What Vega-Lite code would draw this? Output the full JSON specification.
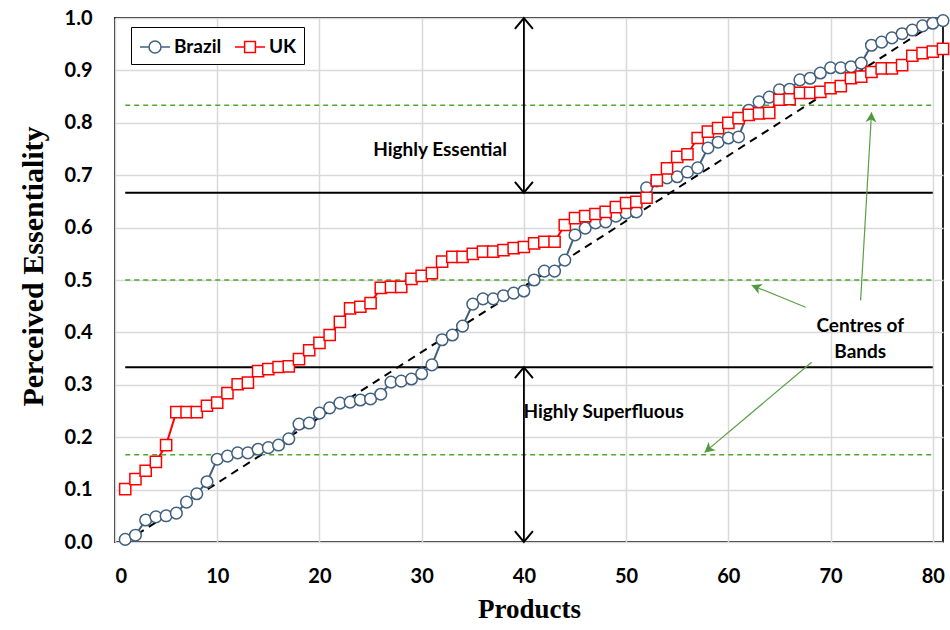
{
  "$schema": "https://vega.github.io/schema/vega-lite/v6.json",
  "width": 828,
  "height": 524,
  "autosize": "none",
  "padding": {"left": 115, "top": 18, "right": 7, "bottom": 88},
  "background": "white",
  "config": {
    "view": {"stroke": "#262626", "strokeWidth": 2},
    "axis": {
      "grid": true, "gridColor": "#d9d9d9", "gridWidth": 1.5, "ticks": false, "domain": false,
      "labelFont": "Lato", "labelFontSize": 20, "labelFontWeight": "bold", "labelColor": "black",
      "titleFont": "Liberation Serif", "titleFontSize": 27, "titleFontWeight": "bold", "titleColor": "black"
    }
  },
  "datasets": {
    "series": [
      {"product":1,"country":"Brazil","value":0.005},{"product":2,"country":"Brazil","value":0.013},{"product":3,"country":"Brazil","value":0.042},{"product":4,"country":"Brazil","value":0.048},{"product":5,"country":"Brazil","value":0.05},
      {"product":6,"country":"Brazil","value":0.055},{"product":7,"country":"Brazil","value":0.076},{"product":8,"country":"Brazil","value":0.092},{"product":9,"country":"Brazil","value":0.115},{"product":10,"country":"Brazil","value":0.158},
      {"product":11,"country":"Brazil","value":0.164},{"product":12,"country":"Brazil","value":0.17},{"product":13,"country":"Brazil","value":0.17},{"product":14,"country":"Brazil","value":0.177},{"product":15,"country":"Brazil","value":0.18},
      {"product":16,"country":"Brazil","value":0.185},{"product":17,"country":"Brazil","value":0.197},{"product":18,"country":"Brazil","value":0.225},{"product":19,"country":"Brazil","value":0.227},{"product":20,"country":"Brazil","value":0.246},
      {"product":21,"country":"Brazil","value":0.256},{"product":22,"country":"Brazil","value":0.265},{"product":23,"country":"Brazil","value":0.267},{"product":24,"country":"Brazil","value":0.271},{"product":25,"country":"Brazil","value":0.273},
      {"product":26,"country":"Brazil","value":0.282},{"product":27,"country":"Brazil","value":0.305},{"product":28,"country":"Brazil","value":0.307},{"product":29,"country":"Brazil","value":0.311},{"product":30,"country":"Brazil","value":0.321},
      {"product":31,"country":"Brazil","value":0.338},{"product":32,"country":"Brazil","value":0.386},{"product":33,"country":"Brazil","value":0.395},{"product":34,"country":"Brazil","value":0.412},{"product":35,"country":"Brazil","value":0.454},
      {"product":36,"country":"Brazil","value":0.464},{"product":37,"country":"Brazil","value":0.464},{"product":38,"country":"Brazil","value":0.47},{"product":39,"country":"Brazil","value":0.475},{"product":40,"country":"Brazil","value":0.479},
      {"product":41,"country":"Brazil","value":0.5},{"product":42,"country":"Brazil","value":0.517},{"product":43,"country":"Brazil","value":0.517},{"product":44,"country":"Brazil","value":0.538},{"product":45,"country":"Brazil","value":0.586},
      {"product":46,"country":"Brazil","value":0.599},{"product":47,"country":"Brazil","value":0.609},{"product":48,"country":"Brazil","value":0.611},{"product":49,"country":"Brazil","value":0.622},{"product":50,"country":"Brazil","value":0.628},
      {"product":51,"country":"Brazil","value":0.63},{"product":52,"country":"Brazil","value":0.676},{"product":53,"country":"Brazil","value":0.689},{"product":54,"country":"Brazil","value":0.695},{"product":55,"country":"Brazil","value":0.697},
      {"product":56,"country":"Brazil","value":0.706},{"product":57,"country":"Brazil","value":0.714},{"product":58,"country":"Brazil","value":0.752},{"product":59,"country":"Brazil","value":0.763},{"product":60,"country":"Brazil","value":0.771},
      {"product":61,"country":"Brazil","value":0.773},{"product":62,"country":"Brazil","value":0.824},{"product":63,"country":"Brazil","value":0.84},{"product":64,"country":"Brazil","value":0.849},{"product":65,"country":"Brazil","value":0.863},
      {"product":66,"country":"Brazil","value":0.864},{"product":67,"country":"Brazil","value":0.882},{"product":68,"country":"Brazil","value":0.885},{"product":69,"country":"Brazil","value":0.895},{"product":70,"country":"Brazil","value":0.905},
      {"product":71,"country":"Brazil","value":0.905},{"product":72,"country":"Brazil","value":0.907},{"product":73,"country":"Brazil","value":0.914},{"product":74,"country":"Brazil","value":0.948},{"product":75,"country":"Brazil","value":0.954},
      {"product":76,"country":"Brazil","value":0.962},{"product":77,"country":"Brazil","value":0.97},{"product":78,"country":"Brazil","value":0.977},{"product":79,"country":"Brazil","value":0.985},{"product":80,"country":"Brazil","value":0.99},
      {"product":81,"country":"Brazil","value":0.995},
      {"product":1,"country":"UK","value":0.101},{"product":2,"country":"UK","value":0.12},{"product":3,"country":"UK","value":0.136},{"product":4,"country":"UK","value":0.153},{"product":5,"country":"UK","value":0.185},
      {"product":6,"country":"UK","value":0.248},{"product":7,"country":"UK","value":0.248},{"product":8,"country":"UK","value":0.248},{"product":9,"country":"UK","value":0.26},{"product":10,"country":"UK","value":0.266},
      {"product":11,"country":"UK","value":0.284},{"product":12,"country":"UK","value":0.301},{"product":13,"country":"UK","value":0.304},{"product":14,"country":"UK","value":0.326},{"product":15,"country":"UK","value":0.33},
      {"product":16,"country":"UK","value":0.334},{"product":17,"country":"UK","value":0.335},{"product":18,"country":"UK","value":0.349},{"product":19,"country":"UK","value":0.366},{"product":20,"country":"UK","value":0.38},
      {"product":21,"country":"UK","value":0.395},{"product":22,"country":"UK","value":0.42},{"product":23,"country":"UK","value":0.446},{"product":24,"country":"UK","value":0.449},{"product":25,"country":"UK","value":0.456},
      {"product":26,"country":"UK","value":0.485},{"product":27,"country":"UK","value":0.487},{"product":28,"country":"UK","value":0.487},{"product":29,"country":"UK","value":0.502},{"product":30,"country":"UK","value":0.508},
      {"product":31,"country":"UK","value":0.513},{"product":32,"country":"UK","value":0.535},{"product":33,"country":"UK","value":0.544},{"product":34,"country":"UK","value":0.544},{"product":35,"country":"UK","value":0.55},
      {"product":36,"country":"UK","value":0.554},{"product":37,"country":"UK","value":0.554},{"product":38,"country":"UK","value":0.557},{"product":39,"country":"UK","value":0.561},{"product":40,"country":"UK","value":0.563},
      {"product":41,"country":"UK","value":0.57},{"product":42,"country":"UK","value":0.573},{"product":43,"country":"UK","value":0.573},{"product":44,"country":"UK","value":0.605},{"product":45,"country":"UK","value":0.618},
      {"product":46,"country":"UK","value":0.622},{"product":47,"country":"UK","value":0.626},{"product":48,"country":"UK","value":0.63},{"product":49,"country":"UK","value":0.639},{"product":50,"country":"UK","value":0.647},
      {"product":51,"country":"UK","value":0.649},{"product":52,"country":"UK","value":0.657},{"product":53,"country":"UK","value":0.69},{"product":54,"country":"UK","value":0.713},{"product":55,"country":"UK","value":0.735},
      {"product":56,"country":"UK","value":0.74},{"product":57,"country":"UK","value":0.771},{"product":58,"country":"UK","value":0.783},{"product":59,"country":"UK","value":0.79},{"product":60,"country":"UK","value":0.8},
      {"product":61,"country":"UK","value":0.809},{"product":62,"country":"UK","value":0.815},{"product":63,"country":"UK","value":0.818},{"product":64,"country":"UK","value":0.819},{"product":65,"country":"UK","value":0.844},
      {"product":66,"country":"UK","value":0.845},{"product":67,"country":"UK","value":0.857},{"product":68,"country":"UK","value":0.857},{"product":69,"country":"UK","value":0.859},{"product":70,"country":"UK","value":0.866},
      {"product":71,"country":"UK","value":0.87},{"product":72,"country":"UK","value":0.885},{"product":73,"country":"UK","value":0.888},{"product":74,"country":"UK","value":0.897},{"product":75,"country":"UK","value":0.904},
      {"product":76,"country":"UK","value":0.904},{"product":77,"country":"UK","value":0.91},{"product":78,"country":"UK","value":0.928},{"product":79,"country":"UK","value":0.933},{"product":80,"country":"UK","value":0.936},
      {"product":81,"country":"UK","value":0.941}
    ],
    "centres": [
      {"product": 1, "product2": 80, "value": 0.16667},
      {"product": 1, "product2": 80, "value": 0.5},
      {"product": 1, "product2": 80, "value": 0.83333}
    ],
    "bounds": [
      {"product": 1, "product2": 80, "value": 0.33333},
      {"product": 1, "product2": 80, "value": 0.66667}
    ],
    "diagonal": [
      {"product": 1, "value": 0},
      {"product": 81, "value": 1}
    ],
    "vArrows": [
      {"product": 40, "value": 0.66667, "value2": 1.0},
      {"product": 40, "value": 0.0, "value2": 0.33333}
    ],
    "vHeads": [
      {"product": 40, "value": 1.0, "angle": 0},
      {"product": 40, "value": 0.66667, "angle": 180},
      {"product": 40, "value": 0.33333, "angle": 0},
      {"product": 40, "value": 0.0, "angle": 180}
    ],
    "gArrows": [
      {"product": 72.94, "value": 0.461, "product2": 74.01, "value2": 0.82, "angle": 3.3},
      {"product": 67.56, "value": 0.448, "product2": 62.28, "value2": 0.49, "angle": 292.2},
      {"product": 68.15, "value": 0.343, "product2": 57.68, "value2": 0.171, "angle": 229.9}
    ],
    "labels": [
      {"product": 31.8, "value": 0.748, "text": "Highly Essential"},
      {"product": 47.8, "value": 0.249, "text": "Highly Superfluous"},
      {"product": 72.9, "value": 0.413, "text": "Centres of"},
      {"product": 72.9, "value": 0.362, "text": "Bands"}
    ]
  },
  "layer": [
    {
      "data": {"name": "centres"},
      "mark": {"type": "rule", "color": "#4ea72e", "strokeWidth": 1.5, "strokeDash": [5, 4]},
      "encoding": {
        "x": {"field": "product", "type": "quantitative", "title": "Products",
              "scale": {"domain": [0, 81], "nice": false, "zero": false},
              "axis": {"values": [0, 10, 20, 30, 40, 50, 60, 70, 80], "labelPadding": 24, "titlePadding": 10, "labelAngle": 0}},
        "x2": {"field": "product2"},
        "y": {"field": "value", "type": "quantitative", "title": "Perceived Essentiality",
              "scale": {"domain": [0, 1], "nice": false},
              "axis": {"values": [0, 0.1, 0.2, 0.3, 0.4, 0.5, 0.6, 0.7, 0.8, 0.9, 1.0], "format": ".1f", "labelPadding": 23, "titlePadding": 16, "titleFontSize": 30, "titleY": 248}}
      }
    },
    {
      "data": {"name": "bounds"},
      "mark": {"type": "rule", "color": "black", "strokeWidth": 2},
      "encoding": {
        "x": {"field": "product", "type": "quantitative"},
        "x2": {"field": "product2"},
        "y": {"field": "value", "type": "quantitative"}
      }
    },
    {
      "data": {"name": "diagonal"},
      "mark": {"type": "line", "color": "black", "strokeWidth": 2, "strokeDash": [8, 6]},
      "encoding": {
        "x": {"field": "product", "type": "quantitative"},
        "y": {"field": "value", "type": "quantitative"}
      }
    },
    {
      "data": {"name": "vArrows"},
      "mark": {"type": "rule", "color": "black", "strokeWidth": 1.8},
      "encoding": {
        "x": {"field": "product", "type": "quantitative"},
        "y": {"field": "value", "type": "quantitative"},
        "y2": {"field": "value2"}
      }
    },
    {
      "data": {"name": "vHeads"},
      "mark": {"type": "point", "shape": "M -1 1.2 L 0 0 L 1 1.2", "filled": false, "stroke": "black", "strokeWidth": 2, "size": 324, "opacity": 1},
      "encoding": {
        "x": {"field": "product", "type": "quantitative"},
        "y": {"field": "value", "type": "quantitative"},
        "angle": {"field": "angle", "type": "quantitative", "scale": null}
      }
    },
    {
      "data": {"name": "gArrows"},
      "mark": {"type": "rule", "color": "#5b9f47", "strokeWidth": 1.2},
      "encoding": {
        "x": {"field": "product", "type": "quantitative"},
        "y": {"field": "value", "type": "quantitative"},
        "x2": {"field": "product2"},
        "y2": {"field": "value2"}
      }
    },
    {
      "data": {"name": "gArrows"},
      "mark": {"type": "point", "shape": "M 0 0 L -1 1.8 L 0 1.3 L 1 1.8 Z", "filled": true, "fill": "#4f9a3c", "strokeWidth": 0, "size": 121, "opacity": 1},
      "encoding": {
        "x": {"field": "product2", "type": "quantitative"},
        "y": {"field": "value2", "type": "quantitative"},
        "angle": {"field": "angle", "type": "quantitative", "scale": null}
      }
    },
    {
      "data": {"name": "series"},
      "mark": {"type": "line", "strokeWidth": 2},
      "encoding": {
        "x": {"field": "product", "type": "quantitative"},
        "y": {"field": "value", "type": "quantitative"},
        "color": {
          "field": "country", "type": "nominal",
          "scale": {"domain": ["Brazil", "UK"], "range": ["#41607e", "#ff0000"]},
          "legend": {
            "title": null, "orient": "none", "legendX": 16, "legendY": 9, "direction": "horizontal",
            "strokeColor": "black", "fillColor": "white", "padding": 7,
            "labelFont": "Lato", "labelFontSize": 19, "labelFontWeight": "bold", "labelColor": "black",
            "symbolSize": 576, "labelOffset": 6, "columnPadding": 10, "symbolOffset": 4,
            "encode": {
              "symbols": {
                "update": {
                  "shape": {"signal": "datum.value === 'Brazil' ? 'M -1.25 0 L -0.5 0 A 0.5 0.5 0 1 0 0.5 0 A 0.5 0.5 0 1 0 -0.5 0 M 0.5 0 L 1.25 0' : 'M -1.25 0 L -0.45 0 M -0.45 -0.45 L 0.45 -0.45 L 0.45 0.45 L -0.45 0.45 Z M 0.45 0 L 1.25 0'"},
                  "fill": {"value": "white"},
                  "fillOpacity": {"value": 1},
                  "stroke": {"signal": "datum.value === 'Brazil' ? '#41607e' : '#ff0000'"},
                  "strokeWidth": {"value": 1.5}
                }
              }
            }
          }
        }
      }
    },
    {
      "data": {"name": "series"},
      "transform": [{"filter": "datum.country === 'Brazil'"}],
      "mark": {"type": "point", "shape": "circle", "filled": false, "fill": "white", "fillOpacity": 1, "stroke": "#41607e", "strokeWidth": 1.5, "size": 135, "opacity": 1},
      "encoding": {
        "x": {"field": "product", "type": "quantitative"},
        "y": {"field": "value", "type": "quantitative"}
      }
    },
    {
      "data": {"name": "series"},
      "transform": [{"filter": "datum.country === 'UK'"}],
      "mark": {"type": "point", "shape": "square", "filled": false, "fill": "white", "fillOpacity": 1, "stroke": "#ff0000", "strokeWidth": 1.5, "size": 125, "opacity": 1},
      "encoding": {
        "x": {"field": "product", "type": "quantitative"},
        "y": {"field": "value", "type": "quantitative"}
      }
    },
    {
      "data": {"name": "labels"},
      "mark": {"type": "text", "font": "Lato", "fontSize": 19, "fontWeight": "bold", "color": "black", "align": "center", "baseline": "middle"},
      "encoding": {
        "x": {"field": "product", "type": "quantitative"},
        "y": {"field": "value", "type": "quantitative"},
        "text": {"field": "text", "type": "nominal"}
      }
    }
  ]
}
